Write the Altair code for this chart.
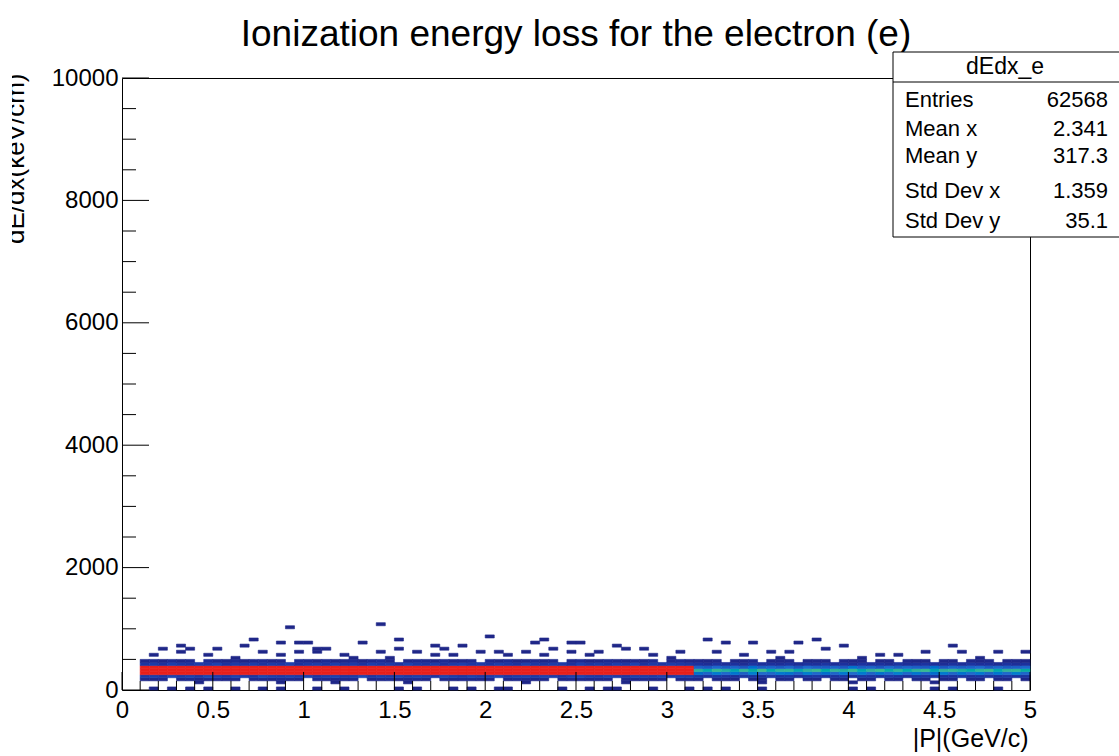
import altair as alt
import pandas as pd

# ---------------- data ----------------
x_bin = 0.05          # |P| bin width (GeV/c)
y_bin = 50            # dE/dx bin width (keV/cm)
x_first = 0.10        # first filled |P| bin

# counts per |P| column (0.10 ... 4.95) for each dE/dx row (lower edge)
row150 = [2,1,3,0,2,4,1,2,3,1, 2,0,3,2,1,4,2,1,0,3, 2,1,2,3,0,1,2,4,1,2,
          3,1,0,2,1,3,2,1,2,0, 1,3,2,1,2,0,1,2,3,1, 2,1,0,2,1,3,1,2,0,1, 2,
          1,0,2,1,1,0,2,1,0,1, 2,0,1,1,0,2,1,0,1,2, 0,1,1,0,2,1,0,1,1,0, 2,1,0,1,1,0,1]
row200 = [18,22,15,26,19,24,17,28,21,16, 25,20,14,27,22,18,23,19,26,15, 21,24,17,20,28,16,22,19,25,18,
          23,20,15,26,21,17,24,19,22,27, 16,20,23,18,25,21,14,22,26,19, 17,24,20,15,23,21,18,25,19,22, 20,
          14,11,16,12,9,15,13,10,17,12, 14,9,13,16,11,12,15,10,14,13, 11,16,12,9,14,13,15,10,12,16, 11,13,14,10,15,12,13]
row250 = [262,275,268,281,270,266,290,272,279,284, 268,276,293,270,281,265,287,274,279,270,
          283,268,276,290,272,265,281,277,269,286, 274,280,266,289,271,278,283,267,275,290,
          270,282,276,265,288,273,279,268,284,271, 277,266,289,274,280,269,285,272,278,266, 275,
          46,41,50,44,48,39,52,45,43,49, 47,40,51,44,46,42,49,45,50,41, 47,44,52,43,48,40,46,50,42,47, 45,49,41,48,44,51,43]
row300 = [345,362,351,370,348,359,366,342,355,371, 349,360,344,368,353,357,372,346,361,350,
          365,343,358,369,352,347,363,356,341,367, 354,360,349,371,345,358,364,351,347,369,
          355,362,343,357,366,350,361,348,370,353, 359,344,367,352,360,346,365,356,349,363, 358,
          76,70,82,74,68,79,73,85,71,77, 80,69,75,83,72,78,74,81,70,76, 84,73,79,71,77,82,68,75,80,74, 72,78,83,70,76,79,73]
row350 = [190,205,198,214,187,201,209,193,216,196, 203,188,211,199,207,192,218,195,204,189,
          212,197,206,191,215,200,186,209,194,213, 198,205,190,217,202,195,208,188,211,199,
          204,193,216,197,207,191,213,200,189,210, 196,206,192,215,199,203,187,212,195,208, 201,
          40,36,44,38,42,35,46,39,41,37, 43,34,45,40,38,42,36,47,39,41, 35,44,38,43,40,37,46,36,42,39, 41,45,37,43,38,40,44]
row400 = [14,19,11,22,16,13,20,17,24,12, 18,15,21,13,19,16,23,11,17,20, 14,22,15,18,12,21,16,19,13,24,
          17,14,20,11,18,22,15,19,13,21, 16,12,23,17,14,20,18,11,22,15, 19,13,21,16,24,12,18,15,20,17, 14,
          10,7,12,8,11,6,13,9,10,8, 12,7,11,9,14,8,10,6,12,9, 11,7,13,8,10,12,9,7,11,8, 13,9,10,6,12,8,11]
row450 = [3,5,1,6,2,4,0,7,3,2, 5,1,4,6,2,3,0,5,4,1, 6,2,3,5,1,4,7,2,0,3,
          5,4,1,6,2,3,5,0,4,2, 6,1,3,5,2,4,0,3,6,1, 2,5,3,1,4,2,6,0,3,5, 2,
          2,1,3,0,2,1,4,0,1,2, 3,0,1,2,1,0,3,1,2,0, 1,2,0,3,1,1,0,2,1,0, 2,1,3,0,1,2,1]
rows = {150: row150, 200: row200, 250: row250, 300: row300, 350: row350, 400: row400, 450: row450}

# isolated cells (|P| bin lower edge, dE/dx bin lower edge, count)
scatter_x = [0.90, 1.40, 2.00, 0.70, 0.85, 0.95, 1.00, 1.30, 1.50, 2.30, 2.45,
             0.20, 0.30, 0.35, 0.50, 0.65, 1.05, 1.10, 1.50, 1.70, 1.75, 1.85, 2.25, 2.35,
             0.15, 0.30, 0.45, 0.60, 0.75, 0.85, 0.95, 1.05, 1.20, 1.25, 1.40, 1.45, 1.60,
             1.70, 1.80, 1.95, 2.05, 2.10, 2.20, 2.30, 2.45,
             2.50, 3.20, 3.30, 3.45, 3.70, 3.80, 3.95, 4.55, 4.15, 4.25, 4.40, 4.60, 4.80,
             4.95, 2.70, 2.75, 2.85, 3.05, 2.60, 2.90, 3.25, 3.40, 3.55, 3.65, 3.85, 3.60,
             4.05, 4.70, 3.00, 2.55,
             0.85, 2.75, 4.00, 0.40, 1.55, 3.50, 4.45, 2.20, 1.15,
             0.15, 0.25, 0.35, 0.45, 0.60, 0.75, 0.85, 1.05, 1.20, 1.50, 1.60, 1.80, 1.90,
             2.05, 2.10, 2.40, 2.55, 2.65, 2.70, 2.90, 3.10, 3.20, 3.30, 3.50, 4.00, 4.10,
             4.45, 4.55, 4.80]
scatter_y = [1000, 1050, 850, 800, 750, 750, 750, 750, 800, 800, 750,
             650, 700, 650, 650, 700, 650, 650, 650, 700, 650, 700, 750, 650,
             550, 600, 550, 500, 600, 550, 600, 600, 550, 500, 600, 500, 600,
             550, 550, 600, 600, 550, 600, 550, 600,
             750, 800, 750, 750, 750, 800, 700, 700, 550, 550, 600, 600, 600,
             600, 700, 650, 650, 600, 600, 550, 600, 550, 600, 600, 650, 500,
             500, 500, 500, 550,
             100, 100, 100, 100, 100, 100, 100, 100, 100,
             0, 0, 0, 0, 0, 0, 0, 0, 0, 0, 0, 0, 0,
             0, 0, 0, 0, 0, 0, 0, 0, 0, 0, 0, 0, 0,
             0, 0, 0]
scatter_n = [1] * len(scatter_x)

x_major = [0, 0.5, 1, 1.5, 2, 2.5, 3, 3.5, 4, 4.5, 5]
x_minor = [0.1, 0.2, 0.3, 0.4, 0.6, 0.7, 0.8, 0.9, 1.1, 1.2, 1.3, 1.4, 1.6, 1.7, 1.8, 1.9,
           2.1, 2.2, 2.3, 2.4, 2.6, 2.7, 2.8, 2.9, 3.1, 3.2, 3.3, 3.4, 3.6, 3.7, 3.8, 3.9,
           4.1, 4.2, 4.3, 4.4, 4.6, 4.7, 4.8, 4.9]
y_major = [0, 2000, 4000, 6000, 8000, 10000]
y_minor = [500, 1000, 1500, 2500, 3000, 3500, 4500, 5000, 5500, 6500, 7000, 7500,
           8500, 9000, 9500]

title_text = "Ionization energy loss for the electron (e)"
x_title = "|P|(GeV/c)"
y_title = "dE/dx(keV/cm)"
stats_name = "dEdx_e"
stats_labels = ["Entries", "Mean x", "Mean y", "Std Dev x", "Std Dev y"]
stats_values = ["62568", "2.341", "317.3", "1.359", "35.1"]

# ---------------- build table ----------------
cells = []
for ylo, counts in rows.items():
    for i, n in enumerate(counts):
        if n > 0:
            x0 = round(x_first + i * x_bin, 4)
            cells.append(dict(x0=x0, x1=round(x0 + x_bin, 4), y0=ylo, y1=ylo + y_bin, n=n))
for x0, y0, n in zip(scatter_x, scatter_y, scatter_n):
    cells.append(dict(x0=x0, x1=round(x0 + x_bin, 4), y0=y0, y1=y0 + y_bin, n=n))
cells_df = pd.DataFrame(cells)

FONT = "Liberation Sans"
W, H = 908, 612

xs = alt.Scale(domain=[0, 5], nice=False, zero=False)
ys = alt.Scale(domain=[0, 10000], nice=False, zero=False)

color_scale = alt.Scale(
    domain=[1, 10, 25, 45, 75, 120, 170],
    range=["#1f2788", "#1c309c", "#1c42b0", "#1f6acd", "#2fb09a", "#d8d820", "#e8201c"],
    clamp=True,
)

heat = alt.Chart(cells_df).mark_rect(strokeWidth=0.6).encode(
    x=alt.X("x0:Q", scale=xs,
            axis=alt.Axis(values=x_major, format="~g", labelFontSize=24, labelFont=FONT,
                          labelColor="black", labelPadding=8, labelFlush=False,
                          labelOverlap=False, ticks=False, domain=False, grid=False,
                          title=x_title, titleFont=FONT, titleFontSize=25,
                          titleFontWeight="normal", titleColor="black",
                          titleX=906, titleY=56, titleAlign="right",
                          titleBaseline="alphabetic")),
    x2="x1:Q",
    y=alt.Y("y0:Q", scale=ys,
            axis=alt.Axis(values=y_major, format="d", labelFontSize=24, labelFont=FONT,
                          labelColor="black", labelPadding=4, labelFlush=False,
                          labelOverlap=False, ticks=False, domain=False, grid=False,
                          title=y_title, titleFont=FONT, titleFontSize=26,
                          titleFontWeight="normal", titleColor="black",
                          titleAngle=270, titleX=-99, titleY=-5, titleAlign="right",
                          titleBaseline="alphabetic")),
    y2="y1:Q",
    color=alt.Color("n:Q", scale=color_scale, legend=None),
    stroke=alt.Stroke("n:Q", scale=color_scale, legend=None),
)

def xticks(vals, length):
    return alt.Chart(pd.DataFrame({"v": vals})).mark_rule(color="black", strokeWidth=1).encode(
        x=alt.X("v:Q", scale=xs), y=alt.value(H), y2=alt.value(H - length))

def yticks(vals, length):
    return alt.Chart(pd.DataFrame({"v": vals})).mark_rule(color="black", strokeWidth=1).encode(
        y=alt.Y("v:Q", scale=ys), x=alt.value(0), x2=alt.value(length))

one = pd.DataFrame({"k": [0]})

mask = alt.Chart(one).mark_rect(color="white").encode(
    x=alt.value(-130), x2=alt.value(-110), y=alt.value(-78), y2=alt.value(300))

title = alt.Chart(one).mark_text(font=FONT, fontSize=37, color="black", align="center",
                                 baseline="alphabetic").encode(
    x=alt.value(454), y=alt.value(-32), text=alt.value(title_text))

box = alt.Chart(one).mark_rect(fill="white", stroke="black", strokeWidth=1).encode(
    x=alt.value(771), x2=alt.value(1010), y=alt.value(-26), y2=alt.value(159))
box_line = alt.Chart(one).mark_rule(color="black", strokeWidth=1).encode(
    x=alt.value(771), x2=alt.value(1010), y=alt.value(4))
box_head = alt.Chart(one).mark_text(font=FONT, fontSize=23, color="black", align="center",
                                    baseline="middle").encode(
    x=alt.value(883), y=alt.value(-11), text=alt.value(stats_name))

row_y = [22, 51, 78, 113, 143]
stat_layers = []
for lab, val, yy in zip(stats_labels, stats_values, row_y):
    stat_layers.append(alt.Chart(one).mark_text(font=FONT, fontSize=22, color="black",
                                                align="left", baseline="middle").encode(
        x=alt.value(783), y=alt.value(yy), text=alt.value(lab)))
    stat_layers.append(alt.Chart(one).mark_text(font=FONT, fontSize=22, color="black",
                                                align="right", baseline="middle").encode(
        x=alt.value(986), y=alt.value(yy), text=alt.value(val)))

chart = alt.layer(
    heat,
    xticks(x_major, 18), xticks(x_minor, 9),
    yticks(y_major, 27), yticks(y_minor, 14),
    mask, title, box, box_line, box_head, *stat_layers,
).properties(
    width=W, height=H,
    autosize=alt.AutoSizeParams(type="none"),
    padding={"left": 122, "top": 78, "right": 89, "bottom": 66},
    background="white",
).configure_view(stroke="black", strokeWidth=1)

chart.save("out.html", embed_options={"renderer": "svg", "actions": False})
